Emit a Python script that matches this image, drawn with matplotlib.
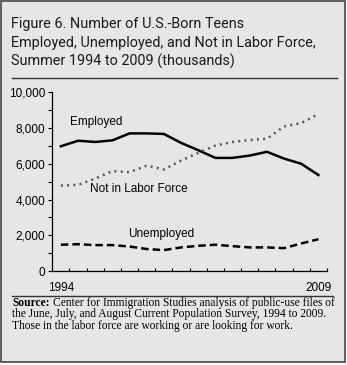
import numpy as np
import matplotlib
matplotlib.use("Agg")
import matplotlib.pyplot as plt
from matplotlib.patches import Rectangle
from matplotlib.lines import Line2D

# Summer teen counts, thousands
years = list(range(1994, 2010))
employed = [6980, 7290, 7220, 7310, 7700, 7700, 7670, 7170, 6760, 6330,
            6330, 6460, 6670, 6290, 6000, 5370]
unemployed = [1470, 1500, 1450, 1450, 1370, 1230, 1170, 1320, 1410, 1470,
              1390, 1320, 1320, 1280, 1540, 1780]
not_in_lf = [4780, 4820, 5170, 5590, 5530, 5900, 5680, 6180, 6610, 7020,
             7220, 7330, 7400, 8090, 8280, 8780]
y_ticks = [0, 2000, 4000, 6000, 8000, 10000]

BG = "#e6e6e6"
SANS = ["Liberation Sans", "DejaVu Sans"]
TITLE_FONT = ["Roboto", "Liberation Sans", "DejaVu Sans"]
SERIF = ["Liberation Serif", "DejaVu Serif"]

W, H = 347, 365
fig = plt.figure(figsize=(W / 100, H / 100), dpi=100)
fig.patch.set_facecolor("white")


def fx(px):
    return px / W


def fy(py):
    return 1 - py / H


# panel background and frame
fig.patches.append(Rectangle((fx(0.5), fy(362)), fx(344.5), 361.5 / H,
                             transform=fig.transFigure, facecolor=BG,
                             edgecolor="#444444", lw=1.2, zorder=-5))

title_lines = ["Figure 6. Number of U.S.-Born Teens",
               "Employed, Unemployed, and Not in Labor Force,",
               "Summer 1994 to 2009 (thousands)"]
for i, line in enumerate(title_lines):
    fig.text(fx(11), fy(28 + 19 * i), line, family=TITLE_FONT, fontsize=10.4,
             color="#1a1a1a", va="baseline", ha="left")
fig.add_artist(Line2D([fx(12), fx(337)], [fy(78), fy(78)], transform=fig.transFigure,
                      color="#333333", lw=1.0))

ax = fig.add_axes([fx(52.3), fy(271), fx(327) - fx(52.3), fy(92.3) - fy(271)])
ax.patch.set_alpha(0)
x = np.arange(len(years))
ax.plot(x, employed, color="black", lw=1.8, solid_joinstyle="round")
ax.plot(x, unemployed, color="black", lw=1.8, ls=(0, (3, 1.6)))
ax.plot(x, not_in_lf, color="#555555", lw=1.8, ls=(0, (0.8, 1.7)))

ax.set_xlim(-0.5, len(years) - 0.5)
ax.set_ylim(0, 10000)
ax.set_yticks(y_ticks)
ax.set_yticklabels([f"{v:,}" for v in y_ticks], family=SANS, fontsize=8.5)
ax.set_yticks(np.arange(1000, 10000, 2000), minor=True)
ax.tick_params(axis="y", which="both", direction="out", length=3, width=0.8, pad=2)
ax.set_xticks(np.arange(-0.5, len(years)), minor=True)
ax.set_xticks([0, len(years) - 1])
ax.set_xticklabels([str(years[0]), str(years[-1])], family=SANS, fontsize=8.5)
ax.tick_params(axis="x", which="major", length=0, pad=8)
ax.tick_params(axis="x", which="minor", direction="in", length=2.5, width=0.8)
for s in ["top", "right"]:
    ax.spines[s].set_visible(False)
for s in ["left", "bottom"]:
    ax.spines[s].set_linewidth(0.9)

ax.text(0.55, 8350, "Employed", family=SANS, fontsize=8.5, ha="left", va="center")
ax.text(1.7, 4600, "Not in Labor Force", family=SANS, fontsize=8.5, ha="left", va="center")
ax.text(3.9, 2070, "Unemployed", family=SANS, fontsize=8.5, ha="left", va="center")

# source note
fig.add_artist(Line2D([fx(12), fx(333)], [fy(296), fy(296)], transform=fig.transFigure,
                      color="#333333", lw=1.0))
SRC = 8.3
lbl = fig.text(fx(12), fy(306), "Source:", family=SERIF, fontsize=SRC, weight="bold",
               va="baseline", ha="left")
fig.canvas.draw()
bb = lbl.get_window_extent()
fig.text(bb.x1 / W + fx(3), fy(306), "Center for Immigration Studies analysis of public-use files of",
         family=SERIF, fontsize=SRC, va="baseline", ha="left")
fig.text(fx(12), fy(317.5), "the June, July, and August Current Population Survey, 1994 to 2009.",
         family=SERIF, fontsize=SRC, va="baseline", ha="left")
fig.text(fx(12), fy(329), "Those in the labor force are working or are looking for work.",
         family=SERIF, fontsize=SRC, va="baseline", ha="left")

fig.savefig("out.png", dpi=100, facecolor="white")
